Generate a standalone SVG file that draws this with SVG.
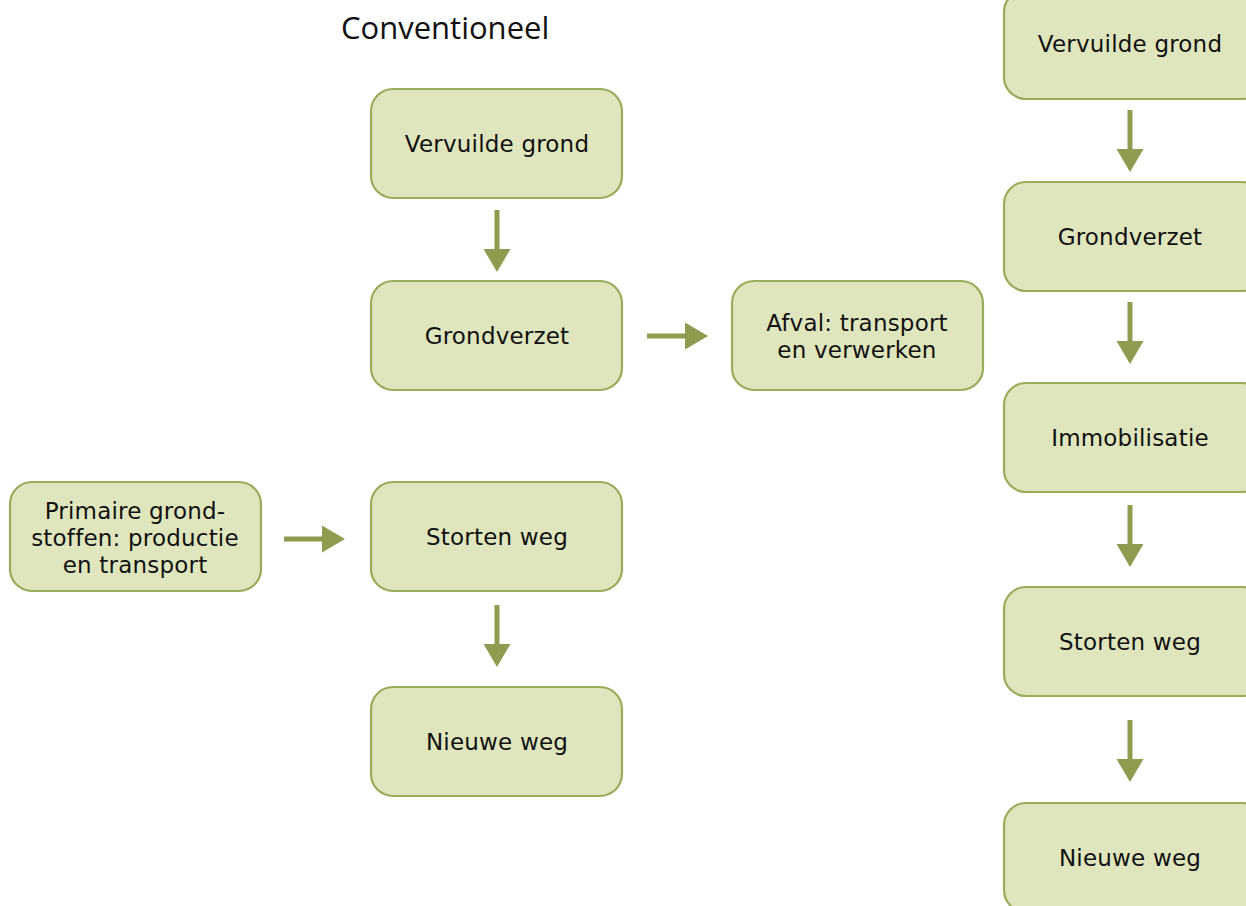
<svg xmlns="http://www.w3.org/2000/svg" width="1246" height="906" viewBox="0 0 1246 906">
<defs>
<style>
.box{fill:#dfe6bd;stroke:#9aab5a;stroke-width:2.2}
.t{font-family:"DejaVu Sans",Verdana,sans-serif;font-size:23px;fill:#111;text-anchor:middle;font-variant-ligatures:none;letter-spacing:0.2px}
.title{font-family:"Open Sans","DejaVu Sans",sans-serif;font-size:31px;fill:#111}
.arr{fill:#8e9c4f}
</style>
<polygon id="down" class="arr" points="-2.5,0 2.5,0 2.5,39 13.5,39 0,62 -13.5,39 -2.5,39"/>
<polygon id="right" class="arr" points="0,-2.5 38,-2.5 38,-13.5 61,0 38,13.5 38,2.5 0,2.5"/>
</defs>
<rect width="1246" height="906" fill="#fff"/>
<text class="title" x="341" y="39">Conventioneel</text>
<g id="n1"><rect class="box" x="371" y="89" width="251" height="109" rx="22"/><text class="t" x="497" y="152">Vervuilde grond</text></g>
<g id="n2"><rect class="box" x="371" y="281" width="251" height="109" rx="22"/><text class="t" x="497" y="344">Grondverzet</text></g>
<g id="n3"><rect class="box" x="732" y="281" width="251" height="109" rx="22"/><text class="t" x="857" y="331">Afval: transport</text><text class="t" x="857" y="358">en verwerken</text></g>
<g id="n4"><rect class="box" x="10" y="482" width="251" height="109" rx="22"/><text class="t" x="135" y="519">Primaire grond-</text><text class="t" x="135" y="546">stoffen: productie</text><text class="t" x="135" y="573">en transport</text></g>
<g id="n5"><rect class="box" x="371" y="482" width="251" height="109" rx="22"/><text class="t" x="497" y="545">Storten weg</text></g>
<g id="n6"><rect class="box" x="371" y="687" width="251" height="109" rx="22"/><text class="t" x="497" y="750">Nieuwe weg</text></g>
<g id="r1"><rect class="box" x="1004" y="-10" width="260" height="109" rx="22"/><text class="t" x="1130" y="52">Vervuilde grond</text></g>
<g id="r2"><rect class="box" x="1004" y="182" width="260" height="109" rx="22"/><text class="t" x="1130" y="245">Grondverzet</text></g>
<g id="r3"><rect class="box" x="1004" y="383" width="260" height="109" rx="22"/><text class="t" x="1130" y="446">Immobilisatie</text></g>
<g id="r4"><rect class="box" x="1004" y="587" width="260" height="109" rx="22"/><text class="t" x="1130" y="650">Storten weg</text></g>
<g id="r5"><rect class="box" x="1004" y="803" width="260" height="109" rx="22"/><text class="t" x="1130" y="866">Nieuwe weg</text></g>
<g id="connectors">
<use href="#down" x="497" y="210"/>
<use href="#down" x="497" y="605"/>
<use href="#right" x="647" y="336"/>
<use href="#right" x="284" y="539"/>
<use href="#down" x="1130" y="110"/>
<use href="#down" x="1130" y="302"/>
<use href="#down" x="1130" y="505"/>
<use href="#down" x="1130" y="720"/>
</g>
</svg>
